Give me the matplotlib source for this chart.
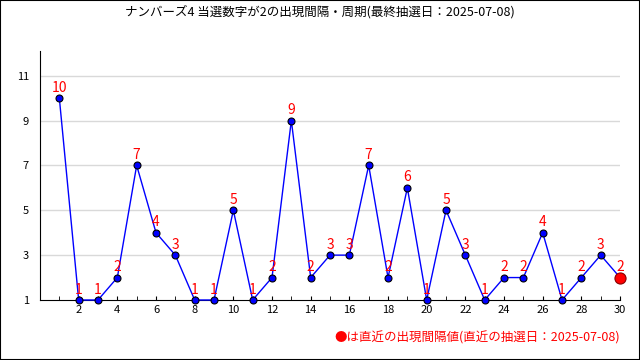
import matplotlib.pyplot as plt

plt.rcParams['font.family'] = ['Noto Sans CJK JP', 'DejaVu Sans']

draws = list(range(1, 31))
intervals = [10, 1, 1, 2, 7, 4, 3, 1, 1, 5, 1, 2, 9, 2, 3, 3, 7, 2, 6, 1,
             5, 3, 1, 2, 2, 4, 1, 2, 3, 2]
yticks = [1, 3, 5, 7, 9, 11]
xticks = list(range(2, 31, 2))
title = "ナンバーズ4 当選数字が2の出現間隔・周期(最終抽選日：2025-07-08)"
note = "●は直近の出現間隔値(直近の抽選日：2025-07-08)"

fig = plt.figure(figsize=(6.4, 3.6), dpi=100)
ax = fig.add_axes([0.0625, 0.1667, 0.9063, 0.6916])

for y in yticks[1:]:
    ax.axhline(y, color="#d9d9d9", lw=1, zorder=0)

ax.plot(draws, intervals, color="blue", lw=1, marker="o", ms=5,
        mfc="blue", mec="black", mew=0.8, zorder=3, clip_on=False)
ax.plot(draws[-1], intervals[-1], "o", ms=8, mfc="red", mec="#880000",
        mew=0.8, zorder=4, clip_on=False)

for x, v in zip(draws, intervals):
    ax.annotate(str(v), (x, v), xytext=(0, 2.5), textcoords="offset points",
                ha="center", va="bottom", color="red", fontsize=10, zorder=5)

ax.set_xlim(0, 30)
ax.set_ylim(1, 12.1)
ax.set_yticks(yticks)
ax.set_xticks(xticks)
ax.set_xticks(draws, minor=True)
ax.tick_params(axis="y", length=0, labelsize=8, pad=8)
ax.tick_params(axis="x", which="both", direction="in", length=3, labelsize=8)
for s in ["top", "right"]:
    ax.spines[s].set_visible(False)

fig.text(0.5, 0.967, title, ha="center", va="center", fontsize=9)
fig.text(0.969, 0.06, note, ha="right", va="center", fontsize=9, color="red")

border = plt.Rectangle((0, 0), 1, 1, transform=fig.transFigure, fill=False,
                       edgecolor="black", lw=1.5)
fig.patches.append(border)

fig.savefig("out.png", dpi=100)
